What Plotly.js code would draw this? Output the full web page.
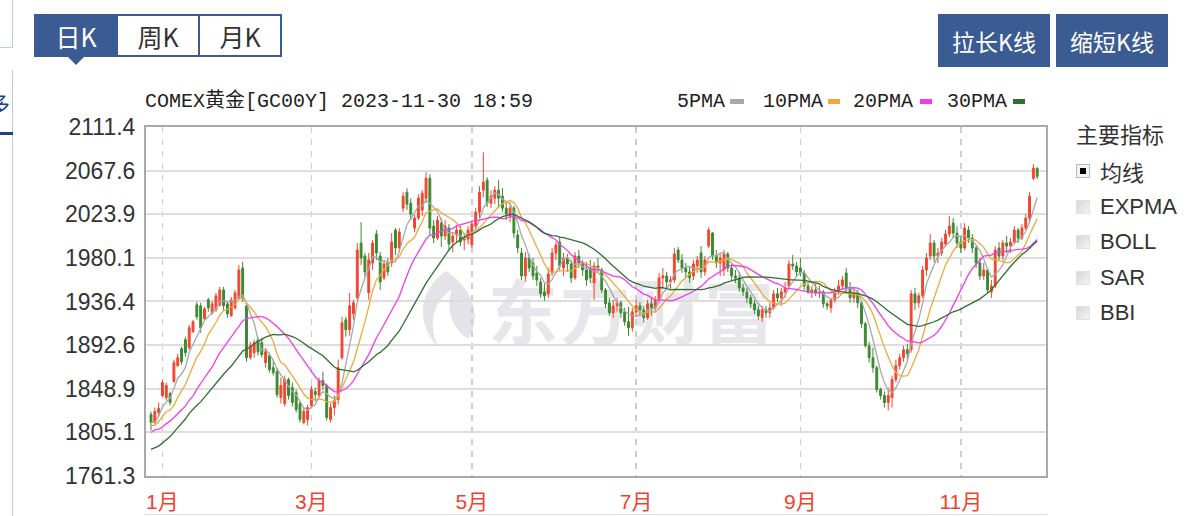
<!DOCTYPE html>
<html><head><meta charset="utf-8">
<script src="https://cdn.plot.ly/plotly-3.0.1.min.js"></script>
<style>
body{margin:0;width:1196px;height:516px;background:#fff;position:relative;overflow:hidden;font-family:"Liberation Sans",Arial,sans-serif;}
.abs{position:absolute;}
#tabs{left:34px;top:14px;width:248px;height:43px;display:flex;border:2px solid #3b5b93;box-sizing:border-box;}
.tab{flex:1;display:flex;align-items:center;justify-content:center;font-size:25px;color:#333;border-left:2px solid #3b5b93;font-family:"Noto Sans CJK SC","Noto Sans",sans-serif;}
.tab.on{border-left:none;background:#3b5b93;color:#fff;}
#ptr{left:68px;top:57px;width:0;height:0;border-left:8px solid transparent;border-right:8px solid transparent;border-top:8px solid #3b5b93;}
.btn{top:14px;width:112px;height:53px;background:#3b5b93;color:#fff;font-size:23px;display:flex;align-items:center;justify-content:center;font-family:"Noto Sans CJK SC",sans-serif;}
.mono{font-family:"Liberation Mono","DejaVu Sans Mono","Noto Sans CJK SC",monospace;font-size:20px;color:#222;line-height:20px;white-space:pre;}
.mk{height:5px;top:99px;}
.ind{left:1076px;font-size:22px;color:#333;font-family:"Liberation Sans","Noto Sans CJK SC",sans-serif;display:flex;align-items:center;height:30px;}
.cb{width:14px;height:14px;background:linear-gradient(135deg,#d6d6d6,#f4f4f4);margin-right:10px;box-sizing:border-box;border:1px solid #e2e2e2;position:relative;}
.cb.on{border:1px solid #bbb;background:#f2f2f2;}
.cb.on::after{content:"";position:absolute;left:3px;top:3px;width:6px;height:6px;background:#000;}
#chart{left:0;top:0;width:1196px;height:516px;z-index:2;}
#wm{left:412px;top:258px;z-index:1;display:flex;align-items:center;}
</style></head>
<body>
<div class="abs" style="left:0;top:0;width:12px;height:47px;border-right:1px solid #b9cde6;border-bottom:1px solid #b9cde6;"></div>
<div class="abs" style="left:12px;top:70px;width:1px;height:446px;background:#b9cde6;"></div>
<div class="abs" style="left:-12px;top:86px;font-size:22px;color:#1f3f8f;font-family:'Noto Sans CJK SC',sans-serif;">多</div>
<div class="abs" style="left:0;top:132px;width:13px;height:3px;background:#1f3f8f;"></div>
<div class="abs" style="left:145px;top:514px;width:902px;height:1px;background:#e0e0e0;"></div>

<div id="tabs" class="abs"><div class="tab on">日K</div><div class="tab">周K</div><div class="tab">月K</div></div>
<div id="ptr" class="abs"></div>
<div class="abs btn" style="left:938px;">拉长K线</div>
<div class="abs btn" style="left:1056px;">缩短K线</div>

<div class="abs mono" style="left:145px;top:92px;">COMEX黄金[GC00Y] 2023-11-30 18:59</div>
<div id="legend"></div>

<div class="abs ind" style="top:118px;">主要指标</div>
<div id="inds"></div>

<div id="wm" class="abs">
<svg width="66" height="80" viewBox="0 0 66 80"><path d="M34 2 C8 20 2 52 26 78 C16 56 20 34 40 20 C34 38 38 58 56 70 C70 48 62 20 34 2Z" fill="#e3e3e8"/></svg>
<div style="font-size:70px;font-weight:bold;color:#e6e6eb;font-family:'Noto Sans CJK SC',sans-serif;margin-left:10px;letter-spacing:2px;">东方财富</div>
</div>

<div id="chart" class="abs"></div>

<script>
// ---- data ----
const dates = ["2022-12-28","2022-12-29","2022-12-30",
"2023-01-03","2023-01-04","2023-01-05","2023-01-06","2023-01-09","2023-01-10","2023-01-11","2023-01-12","2023-01-13","2023-01-17","2023-01-18","2023-01-19","2023-01-20","2023-01-23","2023-01-24","2023-01-25","2023-01-26","2023-01-27","2023-01-30","2023-01-31",
"2023-02-01","2023-02-02","2023-02-03","2023-02-06","2023-02-07","2023-02-08","2023-02-09","2023-02-10","2023-02-13","2023-02-14","2023-02-15","2023-02-16","2023-02-17","2023-02-21","2023-02-22","2023-02-23","2023-02-24","2023-02-27","2023-02-28",
"2023-03-01","2023-03-02","2023-03-03","2023-03-06","2023-03-07","2023-03-08","2023-03-09","2023-03-10","2023-03-13","2023-03-14","2023-03-15","2023-03-16","2023-03-17","2023-03-20","2023-03-21","2023-03-22","2023-03-23","2023-03-24","2023-03-27","2023-03-28","2023-03-29","2023-03-30","2023-03-31",
"2023-04-03","2023-04-04","2023-04-05","2023-04-06","2023-04-10","2023-04-11","2023-04-12","2023-04-13","2023-04-14","2023-04-17","2023-04-18","2023-04-19","2023-04-20","2023-04-21","2023-04-24","2023-04-25","2023-04-26","2023-04-27","2023-04-28",
"2023-05-01","2023-05-02","2023-05-03","2023-05-04","2023-05-05","2023-05-08","2023-05-09","2023-05-10","2023-05-11","2023-05-12","2023-05-15","2023-05-16","2023-05-17","2023-05-18","2023-05-19","2023-05-22","2023-05-23","2023-05-24","2023-05-25","2023-05-26","2023-05-30","2023-05-31",
"2023-06-01","2023-06-02","2023-06-05","2023-06-06","2023-06-07","2023-06-08","2023-06-09","2023-06-12","2023-06-13","2023-06-14","2023-06-15","2023-06-16","2023-06-20","2023-06-21","2023-06-22","2023-06-23","2023-06-26","2023-06-27","2023-06-28","2023-06-29","2023-06-30",
"2023-07-03","2023-07-05","2023-07-06","2023-07-07","2023-07-10","2023-07-11","2023-07-12","2023-07-13","2023-07-14","2023-07-17","2023-07-18","2023-07-19","2023-07-20","2023-07-21","2023-07-24","2023-07-25","2023-07-26","2023-07-27","2023-07-28","2023-07-31",
"2023-08-01","2023-08-02","2023-08-03","2023-08-04","2023-08-07","2023-08-08","2023-08-09","2023-08-10","2023-08-11","2023-08-14","2023-08-15","2023-08-16","2023-08-17","2023-08-18","2023-08-21","2023-08-22","2023-08-23","2023-08-24","2023-08-25","2023-08-28","2023-08-29","2023-08-30","2023-08-31",
"2023-09-01","2023-09-05","2023-09-06","2023-09-07","2023-09-08","2023-09-11","2023-09-12","2023-09-13","2023-09-14","2023-09-15","2023-09-18","2023-09-19","2023-09-20","2023-09-21","2023-09-22","2023-09-25","2023-09-26","2023-09-27","2023-09-28","2023-09-29",
"2023-10-02","2023-10-03","2023-10-04","2023-10-05","2023-10-06","2023-10-09","2023-10-10","2023-10-11","2023-10-12","2023-10-13","2023-10-16","2023-10-17","2023-10-18","2023-10-19","2023-10-20","2023-10-23","2023-10-24","2023-10-25","2023-10-26","2023-10-27","2023-10-30","2023-10-31",
"2023-11-01","2023-11-02","2023-11-03","2023-11-06","2023-11-07","2023-11-08","2023-11-09","2023-11-10","2023-11-13","2023-11-14","2023-11-15","2023-11-16","2023-11-17","2023-11-20","2023-11-21","2023-11-22","2023-11-24","2023-11-27","2023-11-28","2023-11-29","2023-11-30"];

const open = [1823,1815,1825,
1842,1840,1844,1856,1872,1889,1898,1890,1906,1933,1932,1919,1938,1925,1928,1933,1948,1934,1922,1930,
1940,1970,1932,1880,1885,1898,1895,1875,1882,1870,1866,1840,1834,1858,1850,1845,1834,1815,1818,
1832,1846,1842,1857,1852,1818,1830,1838,1880,1918,1908,1924,1940,1995,1982,1945,1975,2004,1982,1960,1975,1975,2008,
1990,2030,2046,2035,2010,2020,2028,2040,2060,2012,2000,2015,2002,2010,1996,2003,2008,1998,1999,
1993,2012,2026,2048,2058,2035,2040,2048,2042,2030,2022,2030,2003,1985,1962,1980,1975,1965,1956,1946,1944,1965,
1985,1996,1970,1980,1974,1960,1982,1975,1968,1970,1955,1972,1968,1948,1935,1925,1932,1935,1926,1916,1910,
1926,1932,1928,1920,1934,1930,1938,1960,1962,1956,1958,1988,1978,1970,1966,1962,1972,1985,1966,1992,
2005,1982,1975,1968,1984,1970,1962,1960,1950,1946,1940,1934,1928,1920,1928,1925,1930,1944,1940,1946,1952,1974,1972,
1970,1965,1952,1946,1948,1945,1946,1934,1930,1938,1946,1952,1965,1950,1940,1945,1935,1914,1892,1880,
1870,1848,1842,1835,1840,1858,1872,1880,1888,1888,1944,1935,1942,1968,1982,1995,1982,1985,1994,2004,2015,2005,
1996,1990,2008,2000,1990,1975,1962,1968,1946,1952,1990,1982,1995,1992,1996,2008,2000,2010,2020,2060,2070];

const high = [1826,1830,1835,
1858,1855,1846,1878,1884,1891,1901,1913,1918,1936,1935,1931,1940,1937,1945,1951,1951,1936,1941,1948,
1973,1976,1934,1896,1898,1901,1900,1890,1885,1878,1870,1860,1862,1860,1855,1848,1836,1830,1833,
1852,1850,1860,1866,1854,1834,1842,1878,1921,1921,1945,1938,1995,2016,1985,1985,1998,2008,1986,1978,1980,2005,2010,
2010,2046,2050,2040,2023,2044,2048,2066,2064,2018,2022,2020,2018,2014,2006,2012,2012,2005,2012,
2018,2030,2052,2086,2061,2048,2052,2058,2050,2036,2036,2032,2008,1990,1986,1984,1980,1972,1960,1954,1970,1990,
1996,2001,1985,1984,1978,1986,1988,1978,1976,1978,1976,1980,1970,1950,1940,1938,1940,1937,1930,1931,1930,
1938,1936,1932,1938,1940,1942,1965,1970,1966,1962,1990,1991,1984,1975,1972,1978,1982,1992,1982,2011,
2006,1988,1985,1988,1986,1974,1968,1966,1954,1950,1943,1938,1932,1932,1932,1935,1948,1950,1950,1956,1978,1983,1976,
1980,1968,1956,1952,1954,1952,1948,1936,1940,1950,1958,1962,1970,1956,1950,1948,1938,1916,1896,1890,
1872,1850,1846,1850,1862,1878,1884,1892,1894,1948,1950,1945,1972,1985,2004,1998,1990,2000,2008,2022,2020,2012,
2002,2015,2012,2004,1992,1980,1975,1970,1958,1992,1996,1998,2002,2000,2012,2010,2014,2024,2046,2074,2071];

const low = [1807,1813,1821,
1840,1837,1832,1855,1871,1873,1881,1888,1905,1918,1905,1918,1926,1923,1926,1931,1928,1920,1921,1928,
1938,1936,1876,1878,1880,1882,1880,1870,1865,1862,1840,1834,1831,1838,1831,1825,1815,1813,1812,
1830,1836,1840,1848,1817,1815,1822,1833,1878,1901,1902,1918,1938,1973,1961,1938,1968,1978,1948,1958,1962,1971,1983,
1986,2026,2028,2018,2006,2018,2022,2035,2003,1995,1998,1991,1998,1988,1986,1995,1992,1988,1994,
1990,2008,2020,2041,2031,2030,2034,2030,2026,2018,2016,2000,1985,1958,1956,1966,1958,1952,1940,1937,1940,1962,
1978,1968,1962,1966,1955,1958,1970,1962,1952,1955,1938,1965,1945,1930,1922,1920,1926,1920,1912,1902,1906,
1921,1922,1915,1918,1922,1925,1935,1950,1950,1948,1955,1975,1965,1960,1955,1958,1965,1960,1962,1990,
1978,1970,1962,1962,1966,1958,1955,1946,1942,1935,1930,1924,1918,1916,1920,1920,1928,1936,1932,1940,1950,1968,1962,
1962,1948,1944,1940,1942,1940,1930,1928,1925,1935,1944,1948,1945,1935,1935,1930,1910,1890,1875,1865,
1845,1838,1830,1827,1830,1855,1868,1876,1878,1885,1928,1930,1940,1962,1978,1976,1975,1982,1991,2001,2000,1990,
1985,1988,1995,1985,1970,1958,1958,1945,1940,1950,1978,1978,1985,1985,1994,1995,1998,2008,2015,2058,2059];

const close = [1815,1826,1829,
1855,1852,1835,1875,1880,1876,1885,1910,1916,1921,1910,1929,1930,1934,1942,1948,1932,1924,1938,1945,
1968,1939,1880,1892,1895,1886,1883,1886,1868,1865,1843,1852,1858,1842,1835,1828,1818,1826,1830,
1848,1843,1857,1852,1820,1830,1837,1870,1915,1908,1932,1935,1988,1980,1966,1978,1995,1985,1956,1974,1966,1996,1990,
2006,2042,2034,2024,2020,2040,2045,2060,2010,2000,2018,2002,2012,1994,2002,2008,1996,1999,2008,
2014,2026,2046,2056,2035,2042,2048,2040,2030,2024,2030,2005,1990,1962,1980,1970,1962,1958,1944,1942,1964,1985,
1993,1972,1980,1974,1960,1982,1975,1968,1958,1960,1972,1970,1948,1934,1925,1932,1935,1925,1916,1910,1926,
1932,1928,1920,1934,1930,1938,1960,1962,1956,1958,1984,1978,1970,1966,1960,1974,1978,1966,1978,2008,
1982,1975,1980,1984,1970,1962,1960,1950,1946,1940,1934,1928,1922,1928,1925,1930,1944,1940,1946,1950,1974,1972,1966,
1965,1952,1946,1948,1945,1946,1934,1932,1938,1946,1952,1958,1950,1940,1945,1935,1914,1892,1880,1870,
1848,1842,1835,1842,1858,1872,1880,1888,1884,1944,1935,1942,1968,1980,1995,1982,1985,1996,2004,2012,2005,1995,
1990,2010,2000,1990,1975,1962,1968,1948,1952,1988,1982,1995,1992,1996,2008,2000,2010,2020,2042,2070,2062];

// closes of the 29 sessions before the first visible candle (needed for the moving averages)
const priorClose = [1780,1776,1762,1754,1740,1742,1748,1755,1742,1741,
1776,1815,1809,1785,1786,1803,1805,1810,1796,1795,
1824,1792,1806,1800,1823,1826,1797,1808,1829];

const yTicks = [1761.3,1805.1,1848.9,1892.6,1936.4,1980.1,2023.9,2067.6,2111.4];
const labelMonths = [1,3,5,7,9,11];
const maPeriods = [5,10,20,30];
const maNames = ["5PMA","10PMA","20PMA","30PMA"];
const maColors = ["#a8a8a8","#eea93a","#f03cf0","#2f6f33"];

// ---- build ----
const idx = dates.map((d,i)=>i);
const all = priorClose.concat(close);
const off = priorClose.length;
function ma(n){
  return close.map((c,i)=>{
    const end = off+i; let s=0;
    for(let k=end-n+1;k<=end;k++) s+=all[k];
    return s/n;
  });
}
const tickvals=[], ticktext=[];
dates.forEach((d,i)=>{
  const m = parseInt(d.slice(5,7),10);
  const prev = i>0 ? parseInt(dates[i-1].slice(5,7),10) : null;
  if(m!==prev && labelMonths.includes(m) && i>0){ tickvals.push(i); ticktext.push(m+"月"); }
});

const traces = [{
  type:'candlestick', x:idx, open:open, high:high, low:low, close:close,
  increasing:{line:{color:'#f2452f',width:1},fillcolor:'#f2452f'},
  decreasing:{line:{color:'#3a8a30',width:1},fillcolor:'#3a8a30'},
  whiskerwidth:0, hoverinfo:'skip'
}];
maPeriods.forEach((p,j)=>{
  traces.push({type:'scatter',mode:'lines',x:idx,y:ma(p),line:{color:maColors[j],width:1.3},hoverinfo:'skip'});
});

const layout = {
  width:1196,height:516,
  margin:{l:146,r:150,t:127,b:40,pad:0},
  paper_bgcolor:'rgba(0,0,0,0)',plot_bgcolor:'rgba(0,0,0,0)',
  showlegend:false,hovermode:false,
  xaxis:{range:[-1.31,234.3],tickmode:'array',tickvals:tickvals,ticktext:ticktext,
    showgrid:true,gridcolor:'#cdcdcd',gridwidth:1.5,griddash:'6px,6px',
    showline:true,mirror:true,linecolor:'#a9a9a9',linewidth:2,zeroline:false,ticks:'',
    tickfont:{family:'Liberation Sans, Noto Sans CJK SC, sans-serif',size:21,color:'#f0412f'},
    rangeslider:{visible:false},fixedrange:true,ticklabelstandoff:6},
  yaxis:{range:[1761.3,2111.4],tickmode:'array',tickvals:yTicks,ticktext:yTicks.map(v=>v.toFixed(1)),
    showgrid:true,gridcolor:'#dddddd',gridwidth:2,
    showline:true,mirror:true,linecolor:'#a9a9a9',linewidth:2,zeroline:false,ticks:'',
    tickfont:{family:'Liberation Sans, Arial, sans-serif',size:23,color:'#333'},
    fixedrange:true,ticklabelstandoff:4}
};
Plotly.newPlot('chart',traces,layout,{displayModeBar:false,staticPlot:true});

// legend
const legPos = [[677,730,14],[763,828,12],[853,920,12],[947,1013,12]];
const leg = document.getElementById('legend');
maNames.forEach((n,j)=>{
  const t=document.createElement('div'); t.className='abs mono'; t.style.left=legPos[j][0]+'px'; t.style.top='92px'; t.textContent=n; leg.appendChild(t);
  const m=document.createElement('div'); m.className='abs mk'; m.style.left=legPos[j][1]+'px'; m.style.width=legPos[j][2]+'px'; m.style.background=maColors[j]; leg.appendChild(m);
});
// indicator list
const indNames = ["均线","EXPMA","BOLL","SAR","BBI"];
const inds = document.getElementById('inds');
indNames.forEach((n,j)=>{
  const r=document.createElement('div'); r.className='abs ind'; r.style.top=(156+j*35.5)+'px';
  const c=document.createElement('div'); c.className='cb'+(j===0?' on':''); r.appendChild(c);
  const s=document.createElement('span'); s.textContent=n; r.appendChild(s);
  inds.appendChild(r);
});
</script>
</body></html>
